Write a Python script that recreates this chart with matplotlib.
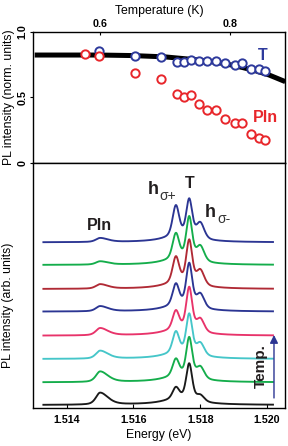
import numpy as np
import matplotlib
matplotlib.use("Agg")
import matplotlib.pyplot as plt

plt.rcParams['font.family'] = ['Liberation Sans', 'DejaVu Sans']
plt.rcParams['font.weight'] = 'bold'
plt.rcParams['axes.linewidth'] = 1.0

# ---- top panel: normalised PL intensity vs temperature ----
temp_T = [0.599, 0.654, 0.694, 0.718, 0.729, 0.740, 0.753, 0.765, 0.778,
          0.792, 0.807, 0.818, 0.832, 0.845, 0.854]
int_T = [0.857, 0.817, 0.807, 0.771, 0.771, 0.786, 0.782, 0.776, 0.782,
         0.763, 0.745, 0.763, 0.717, 0.717, 0.702]
temp_PIn = [0.578, 0.599, 0.654, 0.694, 0.718, 0.729, 0.740, 0.753, 0.765,
            0.778, 0.792, 0.807, 0.818, 0.832, 0.845, 0.854]
int_PIn = [0.835, 0.817, 0.690, 0.641, 0.524, 0.501, 0.517, 0.450, 0.405,
           0.405, 0.336, 0.303, 0.303, 0.224, 0.193, 0.173]
fit_temp = [0.50, 0.60, 0.65, 0.70, 0.75, 0.78, 0.80, 0.82, 0.84, 0.86, 0.885]
fit_int = [0.824, 0.824, 0.820, 0.810, 0.787, 0.768, 0.750, 0.728, 0.703, 0.672, 0.621]

# ---- bottom panel: spectra, bottom (coldest) to top ----
trace_colors = ['#1a1a1a', '#14ad4b', '#45c6c9', '#e8336a', '#2b3593',
                '#b02a35', '#14ad4b', '#2b3593']
offsets = [0.13, 1.10, 2.10, 3.10, 4.13, 5.10, 6.13, 7.10]
# peak heights (arb. units above each baseline)
h_PIn = [0.53, 0.47, 0.36, 0.33, 0.24, 0.21, 0.16, 0.19]
h_sp = [0.78, 1.03, 1.20, 1.10, 1.22, 1.41, 1.38, 1.60]
h_T = [1.79, 1.95, 1.96, 2.10, 2.10, 2.13, 2.10, 1.89]
h_sm = [0.46, 0.71, 0.73, 0.77, 0.81, 0.86, 0.86, 0.88]
peak_E = [1.51500, 1.51727, 1.51767, 1.51800]
bg_amp = 0.30

E = np.linspace(1.5133, 1.52018, 1500)


def pvoigt(x, x0, fwhm, eta=0.35):
    d = (x - x0) / (fwhm / 2)
    return eta / (1 + d ** 2) + (1 - eta) * np.exp(-np.log(2) * d ** 2)


def shapes(x):
    pin = np.where(x < peak_E[0], pvoigt(x, peak_E[0], 0.00030, 0.5),
                   pvoigt(x, peak_E[0], 0.00056, 0.5))
    return [pin, pvoigt(x, peak_E[1], 0.00023), pvoigt(x, peak_E[2], 0.00021),
            pvoigt(x, peak_E[3], 0.00028)]


def background(x):
    return bg_amp / (1 + ((x - 1.5174) / 0.00055) ** 2)


px = np.array(peak_E)
M = np.array(shapes(px)).T  # rows: positions, cols: components

fig = plt.figure(figsize=(2.88, 4.46), dpi=100)
ax1 = fig.add_axes([0.1146, 0.6345, 0.875, 0.2938])
ax2 = fig.add_axes([0.1146, 0.0852, 0.875, 0.5493])

ax1.plot(fit_temp, fit_int, color='black', lw=3.6, solid_capstyle='butt', zorder=1)
ax1.plot(temp_T, int_T, 'o', ms=6, mfc='white', mec='#2e3a9c', mew=1.4, zorder=2)
ax1.plot(temp_PIn, int_PIn, 'o', ms=6, mfc='white', mec='#e8262b', mew=1.4, zorder=3)
ax1.set_xlim(0.4974, 0.8846)
ax1.set_ylim(0, 1.0)
ax1.xaxis.tick_top()
ax1.xaxis.set_label_position('top')
ax1.set_xticks([0.6, 0.8])
ax1.set_xticklabels(['0.6', '0.8'])
ax1.set_yticks([0, 0.5, 1.0])
ax1.set_yticklabels(['0', '0.5', '1.0'], rotation=90, va='center')
ax1.tick_params(axis='x', direction='in', length=2.5, labelsize=7.7, pad=2)
ax1.tick_params(axis='y', direction='out', length=2, labelsize=7.7, pad=2)
ax1.set_xlabel('Temperature (K)', fontsize=8.8, labelpad=4)
ax1.set_ylabel('PL intensity (norm. units)', fontsize=8.8)
ax1.yaxis.set_label_coords(-0.071, 0.5)
ax1.text(0.8508, 0.824, 'T', color='#2e3a9c', fontsize=11.5, ha='center', va='center')
ax1.text(0.8538, 0.351, 'PIn', color='#e8262b', fontsize=11.5, ha='center', va='center')

base = background(px)
comps = shapes(E)
for i in range(len(offsets)):
    target = np.array([h_PIn[i], h_sp[i], h_T[i], h_sm[i]]) - base
    amps = np.linalg.solve(M, target)
    y = background(E) + sum(a * c for a, c in zip(amps, comps))
    ax2.plot(E, y + offsets[i], color=trace_colors[i], lw=1.35)

ax2.set_xlim(1.512989, 1.52054)
ax2.set_ylim(0, 10.5)
ax2.set_xticks([1.514, 1.516, 1.518, 1.520])
ax2.set_xticklabels(['1.514', '1.516', '1.518', '1.520'])
ax2.set_yticks([])
ax2.tick_params(axis='x', direction='in', length=3, labelsize=7.7, pad=5)
ax2.set_xlabel('Energy (eV)', fontsize=8.8, labelpad=3)
ax2.set_ylabel('PL intensity (arb. units)', fontsize=8.8)
ax2.yaxis.set_label_coords(-0.077, 0.42)

tc = '#231f20'
ax2.text(1.51499, 7.84, 'PIn', fontsize=11.5, ha='center', va='center', color=tc)
ax2.text(1.51643, 9.17, 'h', fontsize=13, ha='left', va='baseline', color=tc)
ax2.text(1.51679, 8.93, 'σ+', fontsize=10, fontweight='normal', ha='left',
         va='baseline', color='#333333')
ax2.text(1.51768, 9.62, 'T', fontsize=11.5, ha='center', va='center', color=tc)
ax2.text(1.51814, 8.19, 'h', fontsize=13, ha='left', va='baseline', color=tc)
ax2.text(1.51850, 7.95, 'σ-', fontsize=10, fontweight='normal', ha='left',
         va='baseline', color='#333333')

ax2.annotate('', xy=(1.52021, 3.13), xytext=(1.52021, 0.43),
             arrowprops=dict(arrowstyle='-|>', color='#2b3593', lw=1.0,
                             mutation_scale=12, shrinkA=0, shrinkB=0))
ax2.text(1.51983, 1.81, 'Temp.', fontsize=11, rotation=90, ha='center',
         va='center', color=tc)

fig.savefig('out.png', dpi=100)
